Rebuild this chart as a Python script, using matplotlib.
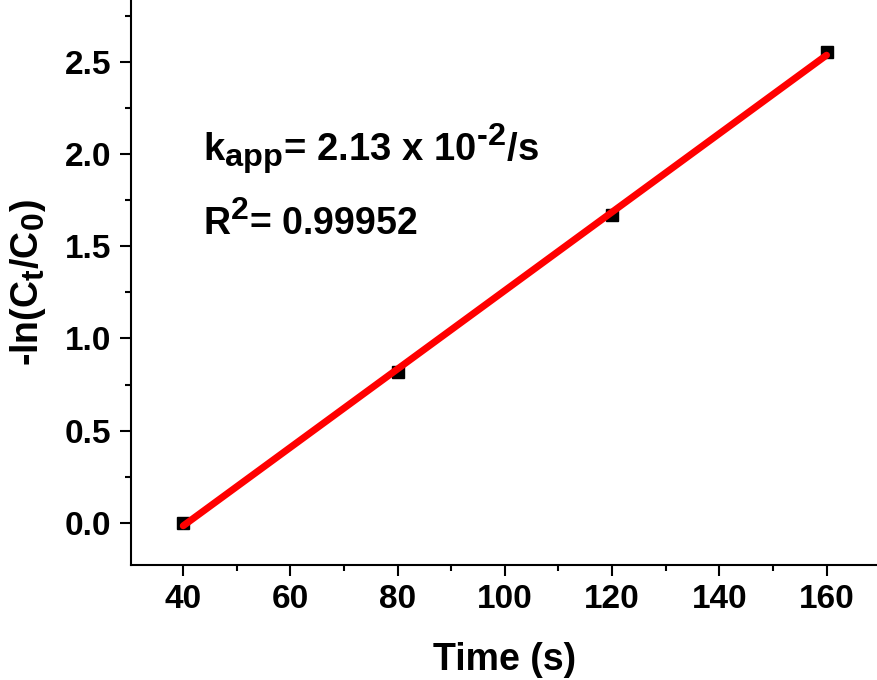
import numpy as np
import matplotlib
matplotlib.use("Agg")
import matplotlib.pyplot as plt
import matplotlib._mathtext as _mt
from matplotlib.ticker import MultipleLocator

_mt.SHRINK_FACTOR = 0.85

plt.rcParams['font.family'] = ['Liberation Sans', 'DejaVu Sans']
plt.rcParams['font.weight'] = 'bold'
plt.rcParams['mathtext.fontset'] = 'custom'
plt.rcParams['mathtext.rm'] = 'Liberation Sans:bold'
plt.rcParams['mathtext.it'] = 'Liberation Sans:bold'
plt.rcParams['mathtext.bf'] = 'Liberation Sans:bold'

time_s = [40, 80, 120, 160]
neg_ln = [0.0, 0.82, 1.67, 2.55]
x_ticks = [40, 60, 80, 100, 120, 140, 160]
y_ticks = [0.0, 0.5, 1.0, 1.5, 2.0, 2.5]

W, H = 878, 680
fig = plt.figure(figsize=(W / 100, H / 100), dpi=100)
ax = fig.add_axes([130.7 / W, (H - 565) / H, 1 - 130.7 / W, 565 / H])

ax.plot(time_s, neg_ln, 's', color='black', markersize=9, zorder=2)
coef = np.polyfit(time_s, neg_ln, 1)
xf = np.array([time_s[0], time_s[-1]])
ax.plot(xf, np.polyval(coef, xf), '-', color='#ff0000', lw=5, solid_capstyle='round', zorder=3)

ax.set_xlim(30.2, 169.6)
ax.set_ylim(-0.2275, 2.834)
ax.set_xticks(x_ticks)
ax.set_yticks(y_ticks)
ax.set_xticklabels([str(v) for v in x_ticks])
ax.set_yticklabels([f"{v:.1f}" for v in y_ticks])
ax.xaxis.set_minor_locator(MultipleLocator(10))
ax.yaxis.set_minor_locator(MultipleLocator(0.25))

for s in ['top', 'right']:
    ax.spines[s].set_visible(False)
for s in ['left', 'bottom']:
    ax.spines[s].set_linewidth(1.5)

ax.tick_params(which='major', direction='out', length=8, width=1.5, labelsize=24, pad=6)
ax.tick_params(which='minor', direction='out', length=4, width=1.5)
for lab in ax.get_xticklabels() + ax.get_yticklabels():
    lab.set_fontweight('bold')

ax.set_xlabel('Time (s)', fontsize=27, fontweight='bold', labelpad=19)
ax.set_ylabel(r'-ln(C$_\mathrm{t}$/C$_\mathrm{0}$)', fontsize=27, fontweight='bold', labelpad=12)

ax.text(203 / W, 1 - 162 / H, 'k$_\\mathrm{app}$= 2.13 x 10$^{\\mathrm{\u2010}\\mathrm{2}}$/s',
        transform=fig.transFigure, fontsize=27.5, fontweight='bold', va='baseline', ha='left')
ax.text(203 / W, 1 - 235 / H, r'R$^\mathrm{2}$= 0.99952',
        transform=fig.transFigure, fontsize=27, fontweight='bold', va='baseline', ha='left')

fig.savefig('out.png', dpi=100)
